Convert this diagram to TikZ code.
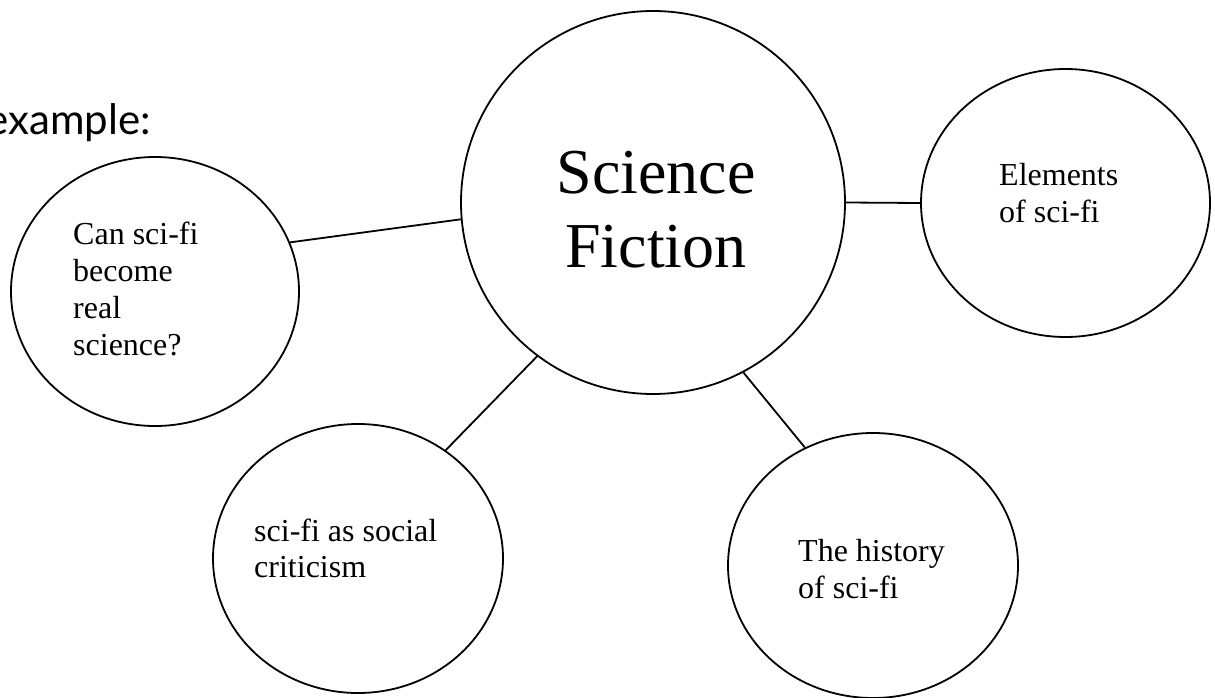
\documentclass[tikz,border=0pt]{standalone}
\usepackage{fontspec}
\setmainfont{Liberation Serif}
\newfontfamily\labelsans{Lato}
\usetikzlibrary{shapes.geometric}

\tikzset{
  bubble/.style={draw, ellipse, line width=1.8pt, inner sep=0pt},
  link/.style={draw, line width=1.8pt},
  smalltext/.style={anchor=base west, inner sep=0pt, font=\fontsize{32}{37}\selectfont},
  bigtext/.style={anchor=base, inner sep=0pt, font=\fontsize{64}{74}\selectfont},
}

\begin{document}
\begin{tikzpicture}[x=1pt, y=-1pt]
  \useasboundingbox (0,0) rectangle (1215,698);

  % heading word at the left
  \node[anchor=base east, inner sep=0pt, font=\labelsans\fontsize{42}{48}\selectfont] (ex) at (151,135) {example:};

  % bubbles
  \node[bubble, minimum width=384pt, minimum height=383pt] (sf) at (653,202.5) {};
  \node[bubble, minimum width=288pt, minimum height=269pt] (q) at (155,291.5) {};
  \node[bubble, minimum width=289pt, minimum height=268pt] (el) at (1065.5,203) {};
  \node[bubble, minimum width=290pt, minimum height=269pt] (soc) at (358,558.5) {};
  \node[bubble, minimum width=290pt, minimum height=265pt] (hist) at (873,565.5) {};

  % connectors
  \draw[link] (q.20.5) -- (sf.185.8);
  \draw[link] (sf.0) -- (el.180);
  \draw[link] (soc.51.9) -- (sf.233.1);
  \draw[link] (hist.120.9) -- (sf.298.8);

  % central topic
  \node[bigtext] (sf1) at (656,193) {Science};
  \node[bigtext] (sf2) at (656,267) {Fiction};

  % subtopics
  \node[smalltext] (q1) at (73,244) {Can sci-fi};
  \node[smalltext] (q2) at (73,281) {become};
  \node[smalltext] (q3) at (73,318) {real};
  \node[smalltext] (q4) at (73,355) {science?};

  \node[smalltext] (el1) at (999,185) {Elements};
  \node[smalltext] (el2) at (999,222) {of sci-fi};

  \node[smalltext] (soc1) at (254,541) {sci-fi as social};
  \node[smalltext] (soc2) at (254,577) {criticism};

  \node[smalltext] (hist1) at (798,561) {The history};
  \node[smalltext] (hist2) at (798,598) {of sci-fi};
\end{tikzpicture}
\end{document}
